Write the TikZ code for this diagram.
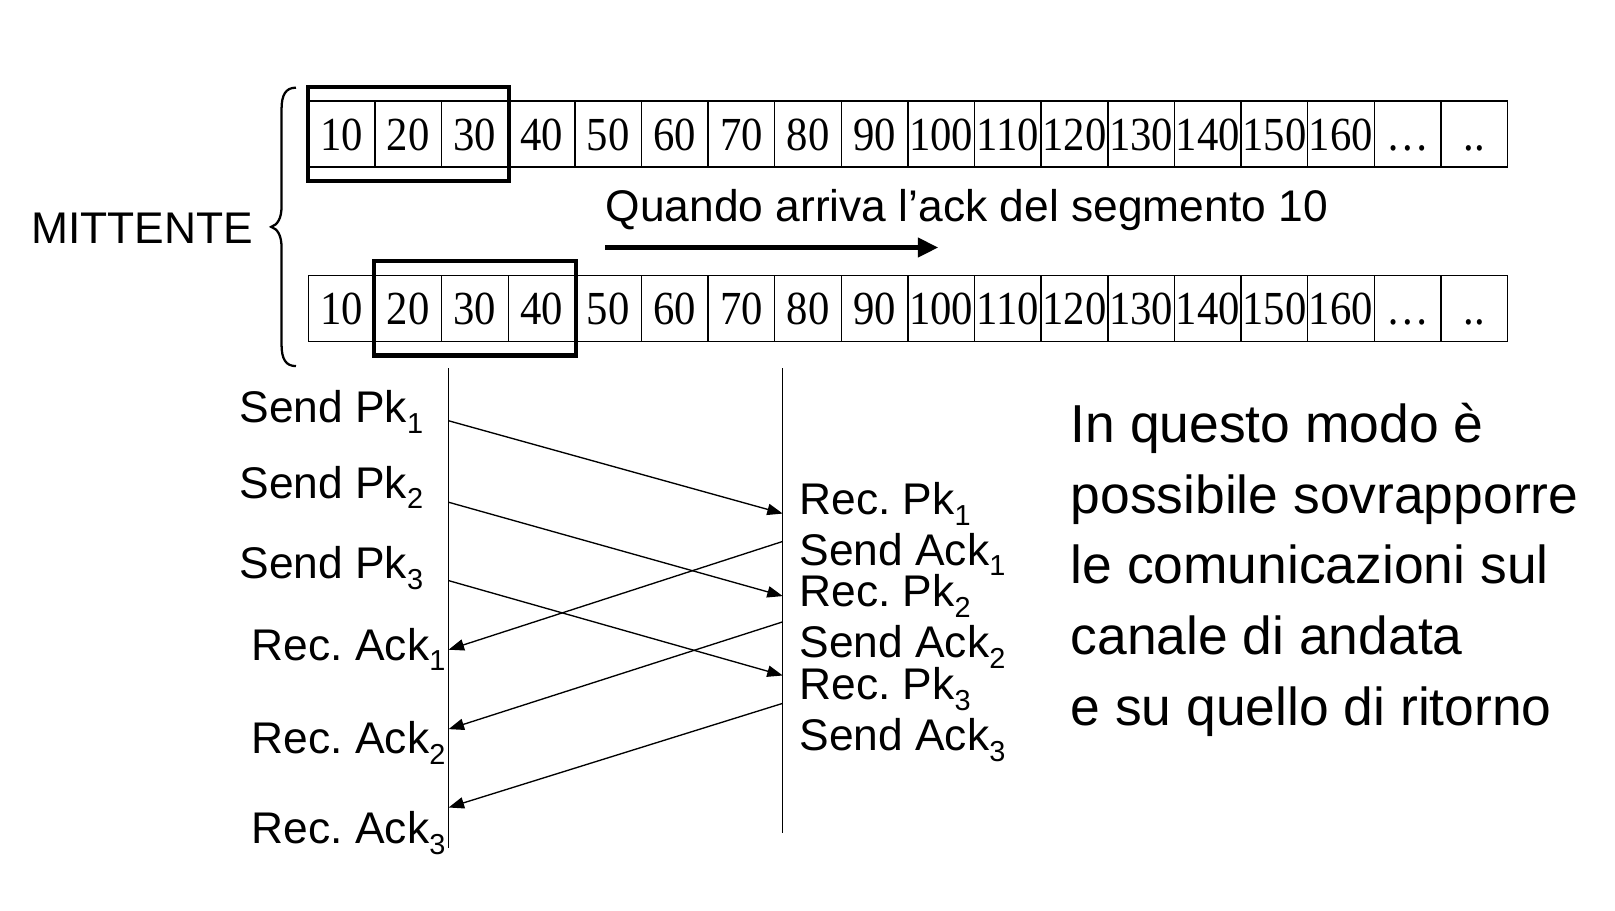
\documentclass[tikz,border=0pt]{standalone}
\usepackage{fontspec}
\setmainfont{Liberation Sans}
\newfontfamily\tnr[FakeStretch=0.9]{Liberation Serif}
\usetikzlibrary{arrows.meta,calc}
\newcommand\subx[1]{\raisebox{-10.5pt}{\fontsize{28}{28}\selectfont #1}}
\newcommand\ellipx{…}
\newcommand\twodots{..}
\frenchspacing
\begin{document}
\begin{tikzpicture}[x=1pt,y=-1pt,
 cell/.style={draw,line width=1.4pt,minimum width=64.6pt,minimum height=64pt,inner sep=0pt,
   text height=31pt,text depth=0pt,font=\tnr\fontsize{46}{46}\selectfont},
 win/.style={line width=4pt},
 lbl/.style={font=\fontsize{43}{50}\selectfont,inner sep=0pt,anchor=base west},
 para/.style={font=\fontsize{51.8}{60}\selectfont,inner sep=0pt,anchor=base west},
 life/.style={line width=1.3pt},
 msg/.style={line width=1.3pt,-{Triangle[length=15pt,width=11pt]}},
 big/.style={line width=5.5pt,-{Triangle[length=20pt,width=18pt]}}]

\useasboundingbox (0,0) rectangle (1566,882.4);

\foreach \t [count=\i] in {10,20,30,40,50,60,70,80,90,100,110,120,130,140,150,160,\ellipx,\twodots}{
  \node[cell] (a\i) at ({299+64.6*(\i-0.5)},130) {\t};
  \node[cell] (b\i) at ({299+64.6*(\i-0.5)},299) {\t};
}

\draw[win] ($(a1.north west)+(0,-13)$) rectangle ($(a3.south east)+(0,13)$);
\draw[win] ($(b2.north west)+(0,-13)$) rectangle ($(b4.south east)+(0,13)$);

% brace
\draw[line width=2.2pt] (287,85) .. controls (277,85) and (273,92) .. (273,106) -- (273,200)
  .. controls (273,212) and (269,218) .. (263,220) .. controls (269,222) and (273,228) .. (273,240)
  -- (273,334) .. controls (273,348) and (277,355) .. (287,355);

\node[lbl] (mit) at (30,236) {MITTENTE};

\node[lbl] (q) at (587,215) {Quando arriva l’ack del segmento 10};
\coordinate (q1) at (587,240);
\coordinate (q2) at (910,240);
\draw[big] (q1) -- (q2);

% lifelines
\coordinate (Ltop) at (435,357); \coordinate (Lbot) at (435,822);
\coordinate (Rtop) at (759,357); \coordinate (Rbot) at (759,808);
\draw[life] (Ltop) -- (Lbot);
\draw[life] (Rtop) -- (Rbot);

% message endpoints
\coordinate (s1) at (435,408); \coordinate (r1) at (759,498);
\coordinate (s2) at (435,487); \coordinate (r2) at (759,578);
\coordinate (s3) at (435,563); \coordinate (r3) at (759,655);
\coordinate (k1) at (759,525); \coordinate (g1) at (435,630);
\coordinate (k2) at (759,603); \coordinate (g2) at (435,707);
\coordinate (k3) at (759,682); \coordinate (g3) at (435,783);
\draw[msg] (s1) -- (r1);
\draw[msg] (s2) -- (r2);
\draw[msg] (s3) -- (r3);
\draw[msg] (k1) -- (g1);
\draw[msg] (k2) -- (g2);
\draw[msg] (k3) -- (g3);

% left labels
\node[lbl] (sp1) at (232,410) {Send Pk\subx{1}};
\node[lbl] (sp2) at (232,483) {Send Pk\subx{2}};
\node[lbl] (sp3) at (232,561) {Send Pk\subx{3}};
\node[lbl] (ra1) at (244,640) {Rec. Ack\subx{1}};
\node[lbl] (ra2) at (244,731) {Rec. Ack\subx{2}};
\node[lbl] (ra3) at (244,818) {Rec. Ack\subx{3}};

% right labels
\node[lbl] (rp1) at (775,499) {Rec. Pk\subx{1}};
\node[lbl] (sa1) at (775,548) {Send Ack\subx{1}};
\node[lbl] (rp2) at (775,588) {Rec. Pk\subx{2}};
\node[lbl] (sa2) at (775,638) {Send Ack\subx{2}};
\node[lbl] (rp3) at (775,678) {Rec. Pk\subx{3}};
\node[lbl] (sa3) at (775,728) {Send Ack\subx{3}};

% paragraph
\node[para] (p1) at (1038,429) {In questo modo è};
\node[para] (p2) at (1038,497.5) {possibile sovrapporre};
\node[para] (p3) at (1038,566) {le comunicazioni sul};
\node[para] (p4) at (1038,634.5) {canale di andata};
\node[para] (p5) at (1038,703) {e su quello di ritorno};
\end{tikzpicture}
\end{document}
